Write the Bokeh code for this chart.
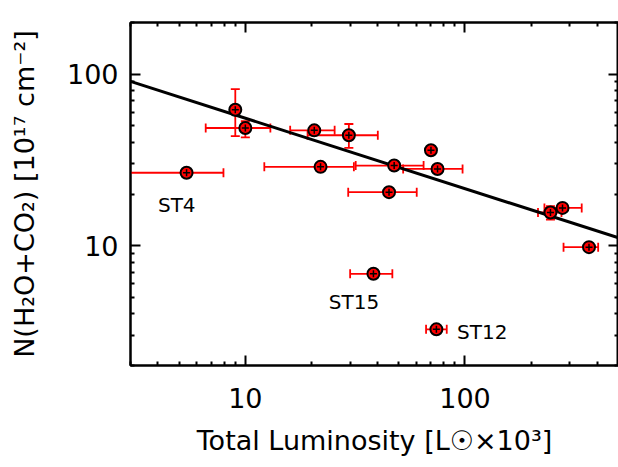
from bokeh.plotting import figure
from bokeh.models import (ColumnDataSource, Whisker, TeeHead, LogAxis, Range1d, Label,
                          FixedTicker, PrintfTickFormatter)
from bokeh.embed import file_html
from bokeh.resources import INLINE

# ---- data ----
lum = [9.0, 10.0, 20.6, 29.6, 70.0, 5.4, 22.0, 47.6, 75.0, 45.1, 245, 278, 367, 38.3, 74.1]
lum_lo = [9.0, 6.6, 16.0, 19.2, 70.0, 2.5, 12.2, 31.8, 52.3, 29.4, 215, 230, 281, 30.0, 66.5]
lum_hi = [9.0, 13.0, 25.5, 40.1, 70.0, 7.95, 31.2, 64.8, 97.5, 60.3, 275, 340, 404, 46.7, 82.6]
col = [62.0, 48.5, 47.0, 44.0, 36.0, 26.6, 28.8, 29.3, 28.0, 20.5, 15.6, 16.6, 9.8, 6.85, 3.25]
col_lo = [43.5, 42.8, 47.0, 37.2, 36.0, 26.6, 28.8, 29.3, 28.0, 20.5, 14.2, 16.6, 9.8, 6.85, 3.25]
col_hi = [81.8, 53.1, 47.0, 51.2, 36.0, 26.6, 28.8, 29.3, 28.0, 20.5, 17.0, 16.6, 9.8, 6.85, 3.25]

fit_x = [3.0, 500.0]
fit_y = [90.7, 11.1]

labels = ["ST4", "ST15", "ST12"]
label_x = [4.0, 24.0, 92.0]
label_y = [17.2, 4.67, 3.12]

major_ticks = [1, 10, 100, 1000]
minor_ticks = [m * d for d in (1, 10, 100) for m in range(2, 10)]

FONT = "DejaVu Sans"

p = figure(width=618, height=467, x_axis_type="log", y_axis_type="log",
           x_range=Range1d(3, 500), y_range=Range1d(2, 200),
           output_backend="svg", toolbar_location=None,
           min_border_left=130, min_border_right=0, min_border_top=22,
           min_border_bottom=102)
p.background_fill_color = "white"
p.border_fill_color = "white"
p.outline_line_color = "black"
p.outline_line_width = 2
p.xgrid.visible = False
p.ygrid.visible = False

# fit line
p.line(fit_x, fit_y, line_color="black", line_width=3)

# x error bars
xe = [i for i in range(len(lum)) if lum_lo[i] != lum_hi[i]]
src_xe = ColumnDataSource(dict(y=[col[i] for i in xe], lo=[lum_lo[i] for i in xe],
                               hi=[lum_hi[i] for i in xe]))
wx = Whisker(base="y", lower="lo", upper="hi", dimension="width", source=src_xe,
             line_color="red", line_width=1.8,
             lower_head=TeeHead(size=9, line_color="red", line_width=1.8),
             upper_head=TeeHead(size=9, line_color="red", line_width=1.8))
p.add_layout(wx)

ye = [i for i in range(len(col)) if col_lo[i] != col_hi[i]]
src_ye = ColumnDataSource(dict(x=[lum[i] for i in ye], lo=[col_lo[i] for i in ye],
                               hi=[col_hi[i] for i in ye]))
wy = Whisker(base="x", lower="lo", upper="hi", dimension="height", source=src_ye,
             line_color="red", line_width=1.8,
             lower_head=TeeHead(size=9, line_color="red", line_width=1.8),
             upper_head=TeeHead(size=9, line_color="red", line_width=1.8))
p.add_layout(wy)

# markers
src = ColumnDataSource(dict(x=lum, y=col))
p.scatter("x", "y", source=src, marker="circle", size=12, fill_color="red",
          line_color="black", line_width=2)
p.scatter("x", "y", source=src, marker="cross", size=7, line_color="black", line_width=1.5)

# labels
for t, lx, ly in zip(labels, label_x, label_y):
    p.add_layout(Label(x=lx, y=ly, text=t, text_font=FONT, text_font_size="20px",
                       text_color="black", text_baseline="middle", text_align="left"))


def style_axis(ax, show_labels=True):
    ax.ticker = FixedTicker(ticks=major_ticks, minor_ticks=minor_ticks)
    ax.formatter = PrintfTickFormatter(format="%d")
    ax.axis_line_width = 2
    ax.axis_line_color = "black"
    ax.major_tick_in = 10
    ax.major_tick_out = 0
    ax.minor_tick_in = 4
    ax.minor_tick_out = 0
    ax.major_tick_line_width = 2
    ax.minor_tick_line_width = 2
    ax.major_label_text_font = FONT
    ax.major_label_text_color = "black"
    if show_labels:
        ax.major_label_text_font_size = "27px"
        ax.major_label_standoff = 12
    else:
        ax.major_label_text_font_size = "1px"
        ax.major_label_text_alpha = 0
        ax.major_label_standoff = 0
    ax.axis_label_text_font = FONT
    ax.axis_label_text_font_size = "27px"
    ax.axis_label_text_font_style = "normal"
    ax.axis_label_text_color = "black"


style_axis(p.xaxis[0])
style_axis(p.yaxis[0])
p.xaxis[0].axis_label = "Total Luminosity [L\u2609\u00d710\u00b3]"
p.yaxis[0].axis_label = "N(H\u2082O+CO\u2082) [10\u00b9\u2077 cm\u207b\u00b2]"
p.xaxis[0].major_label_standoff = 22
p.xaxis[0].axis_label_standoff = 14
p.yaxis[0].axis_label_standoff = 24

top = LogAxis()
style_axis(top, show_labels=False)
p.add_layout(top, "above")
right = LogAxis()
style_axis(right, show_labels=False)
p.add_layout(right, "right")

open("out.html", "w").write(file_html(p, INLINE))
